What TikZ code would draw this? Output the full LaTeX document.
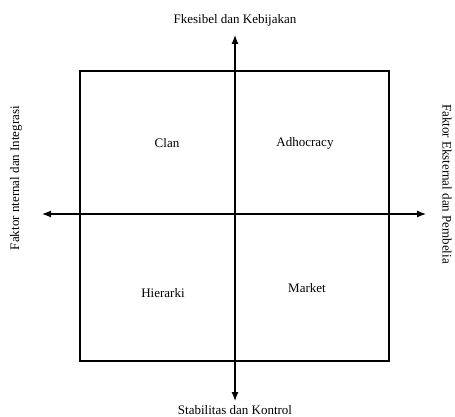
\documentclass[tikz,border=0pt]{standalone}
\usepackage{fontspec}
\setmainfont{Liberation Serif}
\usetikzlibrary{arrows.meta}
\begin{document}
\begin{tikzpicture}[x=1pt,y=-1pt,
  lbl/.style={font=\fontsize{13}{15}\selectfont, inner sep=0pt},
  axis/.style={line width=1.2pt, -{Latex[length=9pt,width=7pt]}},
  frame/.style={line width=2.8pt}]
\useasboundingbox (0,0) rectangle (455,417);
\coordinate (tl) at (80,71);
\coordinate (br) at (389,361);
\draw[frame] (tl) rectangle (br);
\coordinate (c) at (235,214);
\coordinate (top) at (235,35);
\coordinate (bot) at (235,401);
\coordinate (lft) at (42,214);
\coordinate (rgt) at (426,214);
\draw[axis] (c) -- (top);
\draw[axis] (c) -- (bot);
\draw[axis] (c) -- (lft);
\draw[axis] (c) -- (rgt);
\node[lbl] (ttop) at (235,20) {Fkesibel dan Kebijakan};
\node[lbl] (tbot) at (235,410) {Stabilitas dan Kontrol};
\node[lbl, rotate=90] (tl1) at (16,178) {Faktor nternal dan Integrasi};
\node[lbl, rotate=-90] (tr1) at (447,184) {Faktor Eksternal dan Pembelia};
\node[lbl] (clan) at (167,143) {Clan};
\node[lbl] (adh) at (305,143) {Adhocracy};
\node[lbl] (hier) at (163,293) {Hierarki};
\node[lbl] (mkt) at (307,288) {Market};
\end{tikzpicture}
\end{document}
